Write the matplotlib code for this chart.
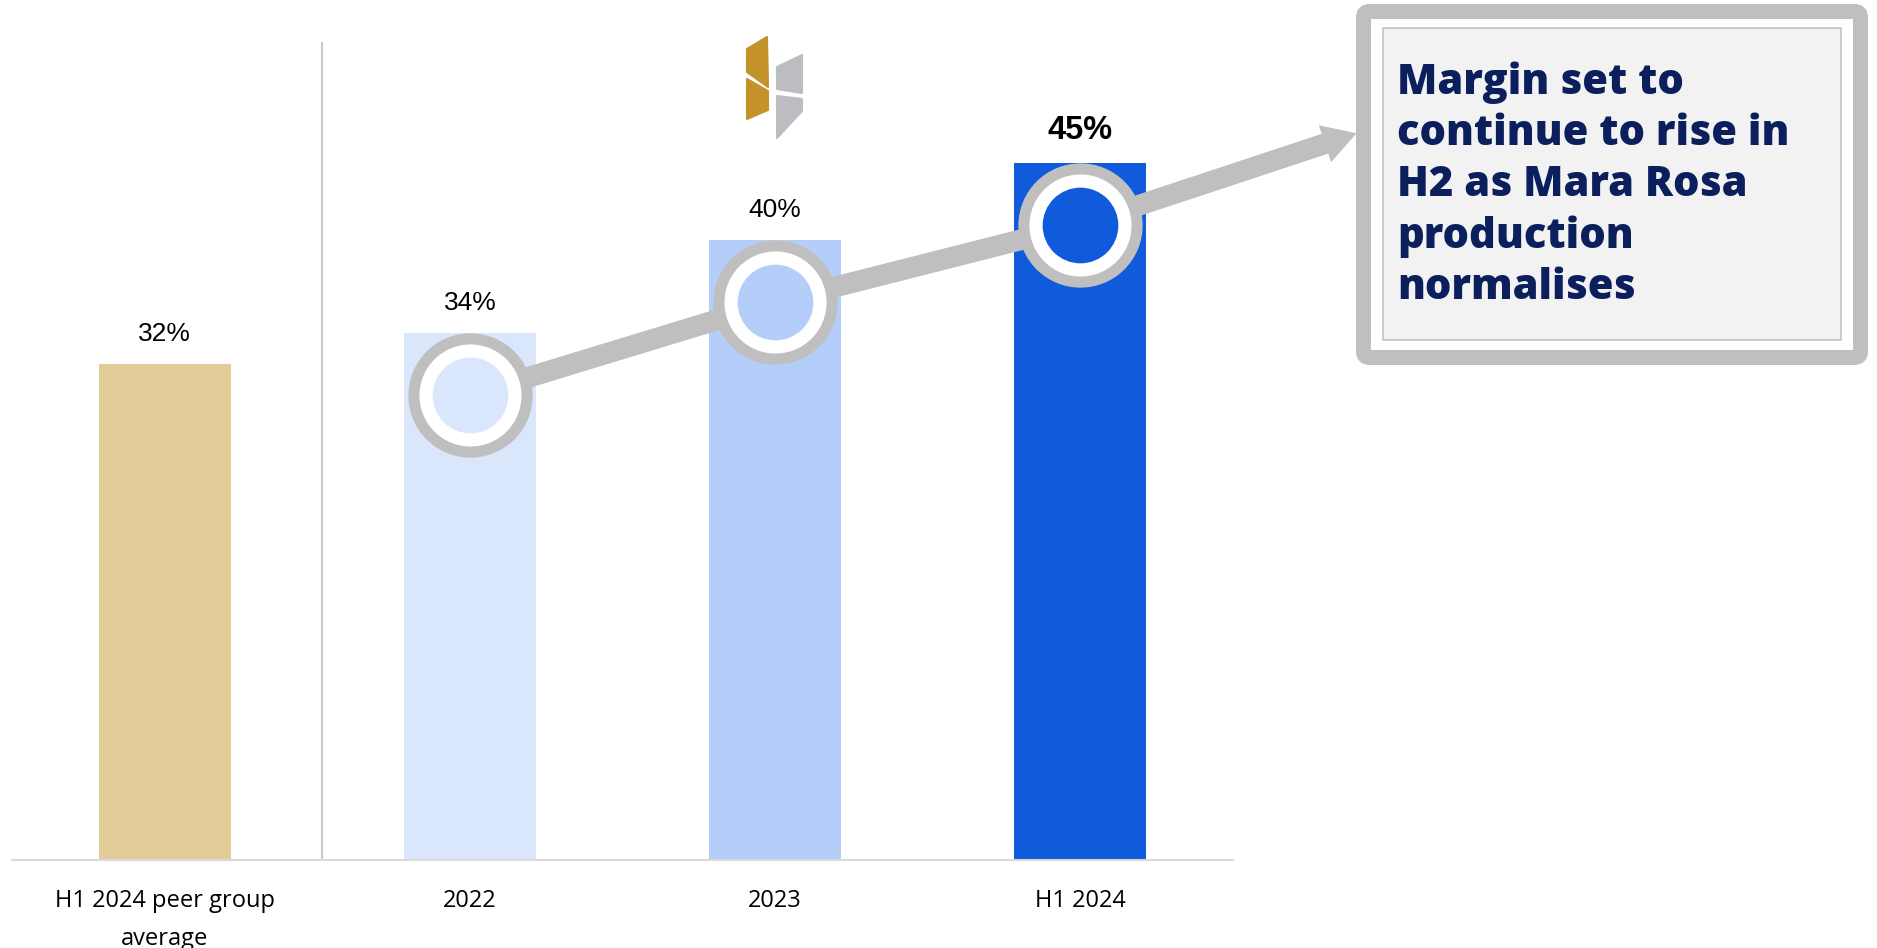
import matplotlib.pyplot as plt
from matplotlib.patches import FancyArrowPatch, FancyBboxPatch, Polygon, ArrowStyle
from matplotlib.transforms import IdentityTransform

categories = ['H1 2024 peer group\naverage', '2022', '2023', 'H1 2024']
margins = [32, 34, 40, 45]
bar_colors = ['#E2CD98', '#DAE6FB', '#B4CEF9', '#0F5BDB']
trend_levels = [30, 36, 41]   # circle markers on the trend arrow (2022, 2023, H1 2024)
callout_lines = ['Margin set to', 'continue to rise in', 'H2 as Mara Rosa',
                 'production', 'normalises']

W, H = 1877, 948
GREY = '#BFBFBF'
NAVY = '#0B1F5C'

fig = plt.figure(figsize=(W / 100, H / 100), dpi=100)
ax = fig.add_axes([12 / W, 88 / H, 1221 / W, 860 / H])

x = list(range(len(categories)))
ax.bar(x, margins, width=0.433, color=bar_colors, zorder=1)
ax.set_xlim(-0.5, 3.5)
ax.set_ylim(0, 55.5)

# value labels
for i, v in enumerate(margins):
    last = i == len(margins) - 1
    ax.annotate(f'{v}%', (i, v), xytext=(0, 23 if last else 22), textcoords='offset points',
                ha='center', va='center', fontsize=23.5 if last else 19,
                fontweight='bold' if last else 'normal', family='Liberation Sans', color='black')

# separator between peer group and company bars
ax.axvline(0.515, ymin=0, ymax=52.7 / 55.5, color='#C8C8C8', lw=1.5, zorder=0)

# trend line with circles
ax.plot(x[1:], trend_levels, color=GREY, lw=15, solid_joinstyle='round', zorder=2)
arrow = FancyArrowPatch((3, trend_levels[-1]), (3.905, 46.9),
                        arrowstyle=ArrowStyle.Simple(head_length=24, head_width=28, tail_width=15),
                        mutation_scale=1, color=GREY, lw=0, shrinkA=0, shrinkB=0,
                        clip_on=False, zorder=2)
ax.add_patch(arrow)
for xi, yi, c in zip(x[1:], trend_levels, bar_colors[1:]):
    ax.plot(xi, yi, 'o', ms=89.5, color=GREY, mew=0, zorder=3)
    ax.plot(xi, yi, 'o', ms=73.5, color='white', mew=0, zorder=4)
    ax.plot(xi, yi, 'o', ms=54.5, color=c, mew=0, zorder=5)

for s in ['top', 'left', 'right']:
    ax.spines[s].set_visible(False)
ax.spines['bottom'].set_color('#D9D9D9')
ax.spines['bottom'].set_linewidth(1.5)
ax.set_yticks([])
ax.set_xticks(x, categories)
ax.tick_params(axis='x', length=0, pad=21, labelsize=17)
for lbl in ax.get_xticklabels():
    lbl.set_family('Open Sans')
    lbl.set_linespacing(1.75)

# callout box (pixel coordinates, y measured from the top)
ident = IdentityTransform()
outer = FancyBboxPatch((1363.5, H - 357.5), 497, 346, boxstyle='round,pad=0,rounding_size=6',
                       fc='white', ec=GREY, lw=10.8, transform=ident)
inner = FancyBboxPatch((1383, H - 340), 458, 312, boxstyle='square,pad=0',
                       fc='#F2F2F2', ec='#C4C4C4', lw=1.2, transform=ident)
fig.add_artist(outer)
fig.add_artist(inner)
for k, line in enumerate(callout_lines):
    fig.text(1397 / W, 1 - (94 + 51.25 * k) / H, line, va='baseline', ha='left',
             fontsize=30, fontweight=800, color=NAVY, family='Open Sans')

# small logo above the 2023 bar
logo = [
    ([(747, 49), (767, 37), (768, 87), (747, 72)], '#C4922A'),
    ([(747, 79), (768, 91), (768, 110), (747, 119)], '#C4922A'),
    ([(777, 67), (802, 55), (802, 93), (777, 89)], '#BBBDC0'),
    ([(777, 96), (802, 99), (802, 111), (777, 138)], '#BBBDC0'),
]
for pts, col in logo:
    fig.add_artist(Polygon([(px, H - py) for px, py in pts], closed=True, fc=col, ec=col,
                           lw=1.5, joinstyle='round', transform=ident))

fig.savefig('out.png', dpi=100)
